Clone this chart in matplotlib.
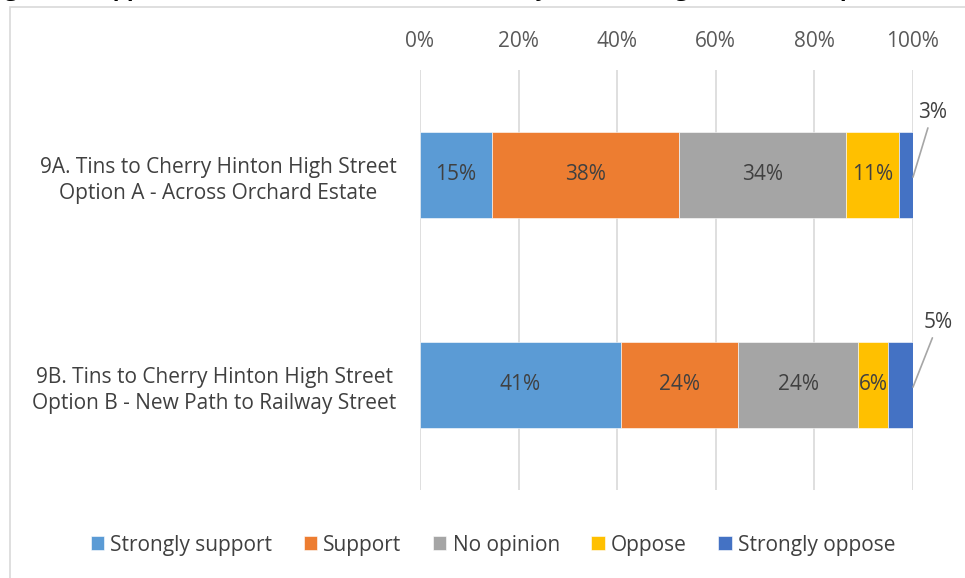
import matplotlib.pyplot as plt
from matplotlib.patches import Rectangle
import numpy as np

plt.rcParams['font.family'] = ['Open Sans', 'DejaVu Sans']

# data
routes = ['9A. Tins to Cherry Hinton High Street\nOption A - Across Orchard Estate',
          '9B. Tins to Cherry Hinton High Street\nOption B - New Path to Railway Street']
responses = ['Strongly support', 'Support', 'No opinion', 'Oppose', 'Strongly oppose']
strongly_support = [14.6, 40.7]
support = [38.0, 23.9]
no_opinion = [33.8, 24.3]
oppose = [10.8, 6.0]
strongly_oppose = [2.8, 5.1]
colours = ['#5B9BD5', '#ED7D31', '#A5A5A5', '#FFC000', '#4472C4']

series = [strongly_support, support, no_opinion, oppose, strongly_oppose]
fs = 15

fig = plt.figure(figsize=(9.65, 5.78), dpi=100)
ax = fig.add_axes([420/965, 1-490/578, 493/965, 420/578])

# chart frame (light grey border, runs off the right/bottom edge)
fig.patches.append(Rectangle((9.5/965, -0.05), 1.1, 1-7/578+0.05,
                             transform=fig.transFigure, fill=False,
                             edgecolor='#d9d9d9', linewidth=1.2))

# title, mostly cropped away at the top
fig.text(-14/965, 1+4/578,
         'Figure 9: Support for 9A and 9B from Tins to Cherry Hinton, all grades for all options',
         fontsize=16, fontweight='bold', color='black', va='baseline', ha='left')

y = np.arange(len(routes))
left = np.zeros(len(routes))
for vals, name, col in zip(series, responses, colours):
    vals = np.array(vals)
    ax.barh(y, vals, left=left, height=0.405, color=col, label=name,
            edgecolor='white', linewidth=0.4, zorder=3)
    for i, v in enumerate(vals):
        if v < 5.5 and name == 'Strongly oppose':
            continue
        ax.text(left[i] + v/2, y[i], '%d%%' % round(v), ha='center', va='center',
                fontsize=fs, color='#404040', zorder=4)
    left = left + vals

# small end segments get callout labels outside the bar
ends = np.array(strongly_oppose)
for i, v in enumerate(ends):
    ax.annotate('%d%%' % round(v), xy=(100, y[i] + 0.01),
                xytext=(104 + 1.2*i, y[i] - 0.3),
                ha='center', va='center', fontsize=fs, color='#404040',
                annotation_clip=False,
                arrowprops=dict(arrowstyle='-', color='#a6a6a6', lw=1.2,
                                shrinkA=2, shrinkB=0))

ax.set_xlim(0, 100)
ax.set_ylim(1.5, -0.5)
ax.set_xticks(np.arange(0, 101, 20))
ax.set_xticklabels(['%d%%' % t for t in range(0, 101, 20)])
ax.xaxis.tick_top()
ax.tick_params(axis='x', length=0, pad=13, labelsize=fs, labelcolor='#595959')
ax.set_yticks(y)
ax.set_yticklabels(routes, multialignment='center', linespacing=1.35)
ax.tick_params(axis='y', length=0, pad=17, labelsize=fs, labelcolor='#404040')
ax.grid(axis='x', color='#d9d9d9', linewidth=1.2, zorder=0)
for s in ax.spines.values():
    s.set_visible(False)
ax.set_facecolor('none')

fig.legend(*ax.get_legend_handles_labels(), loc='center', bbox_to_anchor=(493/965, 1-545/578),
           ncol=5, frameon=False, fontsize=fs, handlelength=0.65, handleheight=0.65,
           handletextpad=0.3, columnspacing=1.5, labelcolor='#404040')

fig.savefig('out.png', dpi=100)
